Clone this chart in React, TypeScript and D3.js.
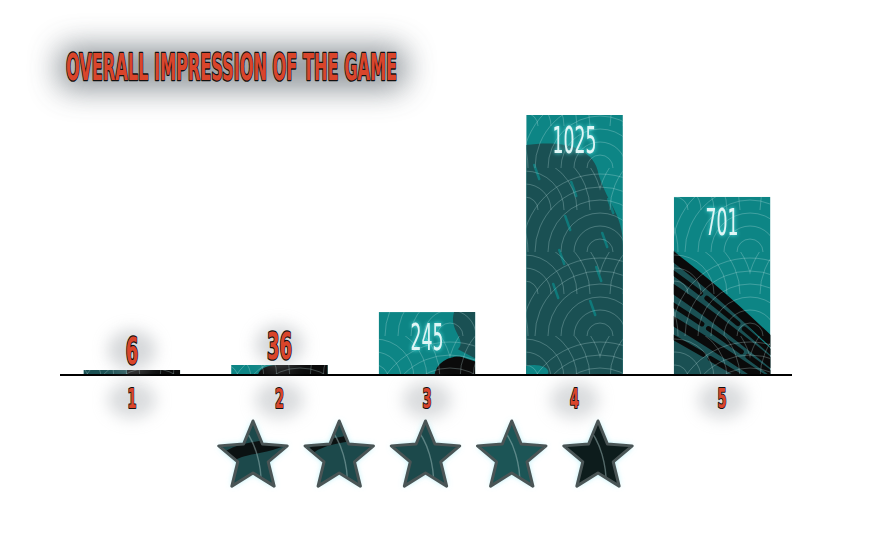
import * as React from "react";
import { scaleBand, scaleLinear, scalePoint, range } from "d3";

// ratings 1..5 and how many people gave each
const ratings = ["1", "2", "3", "4", "5"];
const counts = [6, 36, 245, 1025, 701];
const stars = ["s1", "s2", "s3", "s4", "s5"];
const titleText = "OVERALL IMPRESSION OF THE GAME";

const W = 883;
const H = 542;
const baseY = 374;
const FONT = "'Liberation Sans Narrow', 'DejaVu Sans Condensed', sans-serif";
const RED = "#d9452b";
const TEAL = "#0d8585";
const DARK = "#1a5053";

const starPath = (cx: number, cy: number, R: number, r: number) => {
  const pts = range(10).map((i) => {
    const a = -Math.PI / 2 + (i * Math.PI) / 5;
    const rad = i % 2 === 0 ? R : r;
    return [cx + rad * Math.cos(a), cy + rad * Math.sin(a)];
  });
  return "M" + pts.map((p) => p.join(",")).join("L") + "Z";
};

// grunge shapes for each bar, relative to bar box
const grunge = (i: number, x: number, y: number, w: number, h: number) => {
  const els: React.ReactNode[] = [];
  if (i === 0) {
    els.push(<rect key="a" x={x} y={y} width={w * 0.45} height={h} fill={DARK} />);
    els.push(<rect key="b" x={x + w * 0.45} y={y} width={w * 0.55} height={h} fill="#0b0b0b" />);
  } else if (i === 1) {
    els.push(
      <path key="a" d={`M${x + w * 0.28},${y + h}C${x + w * 0.3},${y + h * 0.3} ${x + w * 0.4},${y} ${x + w * 0.5},${y}L${x + w},${y}L${x + w},${y + h}Z`} fill="#0b0b0b" />
    );
  } else if (i === 2) {
    els.push(
      <path key="a" d={`M${x + w * 0.78},${y}C${x + w * 0.72},${y + h * 0.3} ${x + w * 0.92},${y + h * 0.45} ${x + w * 0.82},${y + h * 0.6}L${x + w},${y + h * 0.75}L${x + w},${y}Z`} fill={DARK} />
    );
    els.push(
      <path key="b" d={`M${x + w * 0.58},${y + h}C${x + w * 0.6},${y + h * 0.8} ${x + w * 0.75},${y + h * 0.7} ${x + w * 0.85},${y + h * 0.72}L${x + w},${y + h * 0.8}L${x + w},${y + h}Z`} fill="#0b0b0b" />
    );
  } else if (i === 3) {
    els.push(
      <path key="a" d={`M${x},${y + 30}C${x + w * 0.3},${y + 26} ${x + w * 0.7},${y + 28} ${x + w * 0.75},${y + 60}C${x + w * 0.85},${y + 90} ${x + w},${y + 100} ${x + w},${y + 130}L${x + w},${y + h}L${x},${y + h}Z`} fill={DARK} />
    );
    range(9).forEach((k) => {
      const sx = x + 8 + ((k * 37) % 80);
      const sy = y + 50 + k * 17;
      els.push(<line key={"s" + k} x1={sx} y1={sy} x2={sx + 5} y2={sy + 14} stroke={TEAL} strokeWidth={2.5} strokeLinecap="round" opacity={0.8} />);
    });
    els.push(<ellipse key="c" cx={x + 8} cy={y + h - 2} rx={14} ry={7} fill={TEAL} />);
  } else if (i === 4) {
    els.push(
      <path key="a" d={`M${x},${y + h * 0.3}L${x + w},${y + h * 0.86}L${x + w},${y + h}L${x},${y + h}Z`} fill={DARK} />
    );
    range(6).forEach((k) => {
      const t = k / 6;
      els.push(
        <path key={"b" + k}
          d={`M${x - 5},${y + h * (0.32 + t * 0.55)}Q${x + w * 0.4},${y + h * (0.5 + t * 0.5)} ${x + w + 5},${y + h * (0.84 + t * 0.35)}`}
          stroke="#0a0a0a" strokeWidth={k % 2 === 0 ? 9 : 5} fill="none" strokeLinecap="round" strokeDasharray={k % 2 ? "40 8" : "none"} />
      );
    });
  }
  return els;
};

export default function App() {
  const x = scaleBand<string>().domain(ratings).range([57, 797]).paddingInner(0.345).paddingOuter(0.18);
  const y = scaleLinear().domain([0, 1025]).range([baseY, 115]);
  const sx = scalePoint<string>().domain(stars).range([253, 598]);
  const bw = x.bandwidth();

  const arcPath = (cx: number, cy: number, r: number) => `M${cx - r},${cy}A${r},${r} 0 0 1 ${cx + r},${cy}`;

  return (
    <svg width={W} height={H} style={{ position: "absolute", left: 0, top: 0, background: "#fff" }}>
      <defs>
        <filter id="soft" x="-50%" y="-80%" width="200%" height="260%">
          <feGaussianBlur stdDeviation={15} />
        </filter>
        <filter id="soft2" x="-80%" y="-80%" width="260%" height="260%">
          <feGaussianBlur stdDeviation={8} />
        </filter>
        <filter id="cyanGlow" x="-40%" y="-40%" width="180%" height="180%">
          <feGaussianBlur in="SourceAlpha" stdDeviation={2.2} result="b" />
          <feFlood floodColor="#5ff4f4" floodOpacity={0.9} />
          <feComposite in2="b" operator="in" result="g" />
          <feMerge>
            <feMergeNode in="g" />
            <feMergeNode in="SourceGraphic" />
          </feMerge>
        </filter>
        <filter id="starGlow" x="-30%" y="-30%" width="160%" height="160%">
          <feGaussianBlur in="SourceAlpha" stdDeviation={3} result="b" />
          <feFlood floodColor="#8fe6f2" floodOpacity={0.9} />
          <feComposite in2="b" operator="in" result="g" />
          <feMerge>
            <feMergeNode in="g" />
            <feMergeNode in="SourceGraphic" />
          </feMerge>
        </filter>
        <pattern id="waves" patternUnits="userSpaceOnUse" width={150} height={84}>
          {[[0, 84], [150, 84], [75, 42], [0, 0], [150, 0]].map(([cx, cy], j) =>
            range(1, 7).map((k) => (
              <path key={j + "-" + k} d={arcPath(cx, cy, k * 13)} fill="none" stroke="rgba(200,232,232,0.3)" strokeWidth={0.9} />
            ))
          )}
        </pattern>
        {ratings.map((r, i) => {
          const h = Math.max(baseY - y(counts[i]), 4);
          return (
            <clipPath id={"clip" + i} key={r}>
              <rect x={x(r)} y={baseY - h} width={bw} height={h} />
            </clipPath>
          );
        })}
        <clipPath id="starClip">
          {stars.map((s) => (
            <path key={s} d={starPath(sx(s)!, 457, 36, 16)} />
          ))}
        </clipPath>
      </defs>

      {/* title */}
      <rect x={58} y={46} width={348} height={44} rx={12} fill="#7f868c" opacity={0.85} filter="url(#soft)" />
      <text x={66} y={80} fontFamily={FONT} fontWeight="bold" fontSize={38} fill={RED} stroke="#111" strokeWidth={2.6}
        paintOrder="stroke" strokeLinejoin="round" textLength={331} lengthAdjust="spacingAndGlyphs">
        {titleText}
      </text>

      {/* bars */}
      {ratings.map((r, i) => {
        const h = Math.max(baseY - y(counts[i]), 4);
        const bx = x(r)!;
        const by = baseY - h;
        return (
          <g key={r} clipPath={`url(#clip${i})`}>
            <rect x={bx} y={by} width={bw} height={h} fill={TEAL} />
            {grunge(i, bx, by, bw, h)}
            <rect x={bx} y={by} width={bw} height={h} fill="url(#waves)" />
          </g>
        );
      })}

      {/* value labels */}
      {ratings.map((r, i) => {
        const h = Math.max(baseY - y(counts[i]), 4);
        const cx = x(r)! + bw / 2;
        const top = baseY - h;
        const label = String(counts[i]);
        if (h > 40) {
          return (
            <text key={r} x={cx} y={top + 38} textAnchor="middle" fontFamily={FONT} fontSize={37}
              fill="#dff6f6" filter="url(#cyanGlow)" textLength={label.length * 11} lengthAdjust="spacingAndGlyphs">
              {label}
            </text>
          );
        }
        return (
          <g key={r}>
            <ellipse cx={cx} cy={top - 20} rx={24} ry={20} fill="#b4b8bc" opacity={0.55} filter="url(#soft2)" />
            <text x={cx} y={top - 6} textAnchor="middle" fontFamily={FONT} fontWeight="bold" fontSize={38}
              fill={RED} stroke="#111" strokeWidth={2.6} paintOrder="stroke" strokeLinejoin="round"
              textLength={label.length * 12.5} lengthAdjust="spacingAndGlyphs">
              {label}
            </text>
          </g>
        );
      })}

      {/* axis */}
      <line x1={60} x2={792} y1={baseY + 1} y2={baseY + 1} stroke="#000" strokeWidth={2} />
      {ratings.map((r) => {
        const cx = x(r)! + bw / 2;
        return (
          <g key={r}>
            <ellipse cx={cx} cy={400} rx={24} ry={18} fill="#b4b8bc" opacity={0.5} filter="url(#soft2)" />
            <text x={cx} y={408} textAnchor="middle" fontFamily={FONT} fontWeight="bold" fontSize={26}
              fill={RED} stroke="#111" strokeWidth={2.2} paintOrder="stroke" strokeLinejoin="round"
              textLength={9} lengthAdjust="spacingAndGlyphs">
              {r}
            </text>
          </g>
        );
      })}

      {/* stars */}
      {stars.map((s, i) => {
        const cx = sx(s)!;
        const d = starPath(cx, 457, 36, 16);
        const fill = i === 4 ? "#0b1f1f" : i === 3 ? "#1d5456" : "#1a4a4c";
        return (
          <g key={s}>
            <path d={d} fill={fill} filter="url(#starGlow)" />
            <g clipPath="url(#starClip)">
              {i < 2 && (
                <path d={`M${cx - 30},${460 - i * 8}C${cx - 10},${445 - i * 8} ${cx + 10},${450 - i * 8} ${cx + 30},${440 - i * 8}`}
                  stroke="#080808" strokeWidth={i === 0 ? 12 : 6} fill="none" opacity={0.85} />
              )}
              <path d={`M${cx - 12},${425}C${cx + 2},${440} ${cx + 10},${465} ${cx + 8},${495}`}
                stroke="rgba(170,200,200,0.45)" strokeWidth={1.4} fill="none" />
            </g>
            <path d={d} fill="none" stroke="#4a5556" strokeWidth={3} strokeLinejoin="round" />
          </g>
        );
      })}
    </svg>
  );
}
